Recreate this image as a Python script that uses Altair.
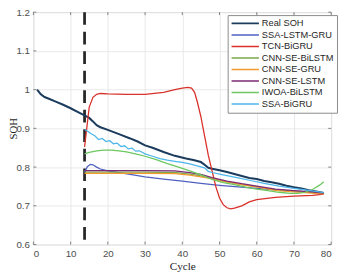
import altair as alt
import pandas as pd

models = ["Real SOH", "SSA-LSTM-GRU", "TCN-BiGRU", "CNN-SE-BiLSTM",
          "CNN-SE-GRU", "CNN-SE-LSTM", "IWOA-BiLSTM", "SSA-BiGRU"]
colors = ["#1c3c5e", "#5060c0", "#d9302a", "#7aa84a",
          "#f39a2e", "#7b2a74", "#6cc860", "#4db6ea"]

real_x = [1, 2, 3, 4, 6, 8, 10, 12, 14, 15, 16, 17, 18, 20, 23, 26, 28, 30, 32, 35, 38, 41, 43,
          45, 46, 47, 48, 50, 52, 54, 56, 58, 60, 62, 64, 66, 68, 70, 72, 74, 76, 78]
real_y = [1.0, 0.988, 0.981, 0.977, 0.969, 0.961, 0.952, 0.942, 0.932, 0.927, 0.918, 0.908,
          0.903, 0.896, 0.885, 0.874, 0.866, 0.856, 0.850, 0.839, 0.829, 0.822, 0.818, 0.813,
          0.806, 0.798, 0.796, 0.792, 0.787, 0.782, 0.777, 0.772, 0.769, 0.764, 0.761, 0.757,
          0.752, 0.748, 0.745, 0.740, 0.737, 0.733]

ssa_lstm_gru_x = [13.75, 14.5, 15.3, 16, 17, 18, 20, 23, 26, 30, 35, 40, 45, 50, 55, 60, 65, 70, 75, 78]
ssa_lstm_gru_y = [0.787, 0.801, 0.807, 0.806, 0.800, 0.795, 0.790, 0.786, 0.781, 0.775, 0.769,
                  0.764, 0.758, 0.753, 0.749, 0.745, 0.741, 0.738, 0.735, 0.733]

tcn_x = [13.75, 15, 16, 17, 18, 20, 25, 30, 35, 38, 40, 41.5, 42.5, 43.3, 44, 45, 46, 47, 48,
         49, 50, 51, 52, 53, 54, 56, 58, 60, 65, 70, 75, 78]
tcn_y = [0.852, 0.955, 0.980, 0.988, 0.990, 0.989, 0.988, 0.988, 0.993, 1.000, 1.004, 1.006,
         1.004, 0.993, 0.970, 0.930, 0.880, 0.830, 0.790, 0.750, 0.720, 0.703, 0.695, 0.692,
         0.694, 0.700, 0.710, 0.716, 0.722, 0.725, 0.727, 0.730]

flat_x = [13.75, 20, 30, 38, 42, 45, 48, 52, 56, 60, 65, 70, 75, 78]
cnn_bilstm_y = [0.787, 0.787, 0.787, 0.786, 0.782, 0.777, 0.770, 0.762, 0.755, 0.749, 0.742, 0.737, 0.734, 0.732]
cnn_gru_y = [0.784, 0.784, 0.784, 0.783, 0.779, 0.775, 0.770, 0.762, 0.755, 0.749, 0.740, 0.736, 0.733, 0.731]
cnn_lstm_y = [0.791, 0.791, 0.791, 0.790, 0.786, 0.781, 0.773, 0.764, 0.757, 0.751, 0.743, 0.739, 0.736, 0.733]

iwoa_x = [13.75, 15, 17, 19, 21, 23, 25, 28, 30, 33, 36, 39, 42, 45, 48, 51, 54, 57, 60, 63,
          66, 69, 71, 73, 75, 77, 78]
iwoa_y = [0.834, 0.838, 0.842, 0.844, 0.844, 0.842, 0.839, 0.833, 0.828, 0.819, 0.809, 0.800,
          0.790, 0.780, 0.768, 0.760, 0.755, 0.748, 0.743, 0.739, 0.735, 0.732, 0.732, 0.735,
          0.742, 0.754, 0.762]

ssa_bigru_x = [13.75, 14.5, 15.5, 16.5, 17.5, 18.5, 19.5, 20.5, 21.5, 22.5, 23.5, 24.5, 25.5,
               26.5, 27.5, 28.5, 30, 32, 34, 36, 38, 40, 42, 44, 46, 47, 48, 50, 52, 55, 58,
               62, 66, 70, 74, 78]
ssa_bigru_y = [0.897, 0.893, 0.886, 0.881, 0.871, 0.874, 0.866, 0.868, 0.860, 0.862, 0.853,
               0.855, 0.847, 0.849, 0.841, 0.842, 0.834, 0.828, 0.822, 0.818, 0.815, 0.812,
               0.808, 0.803, 0.798, 0.789, 0.786, 0.782, 0.778, 0.772, 0.766, 0.758, 0.751,
               0.745, 0.740, 0.734]

split_cycle = 13.75
x_ticks = [0, 10, 20, 30, 40, 50, 60, 70, 80]
y_ticks = [0.6, 0.7, 0.8, 0.9, 1.0, 1.1, 1.2]

series = [
    (real_x, real_y), (ssa_lstm_gru_x, ssa_lstm_gru_y), (tcn_x, tcn_y),
    (flat_x, cnn_bilstm_y), (flat_x, cnn_gru_y), (flat_x, cnn_lstm_y),
    (iwoa_x, iwoa_y), (ssa_bigru_x, ssa_bigru_y),
]

W, H = 305, 238
FONT = "Liberation Sans"
SERIF = "Liberation Serif"

xscale = alt.Scale(domain=[0, 80], nice=False, zero=False)
yscale = alt.Scale(domain=[0.6, 1.2], nice=False, zero=False)
xaxis = alt.Axis(values=x_ticks, format="d", grid=True, ticks=False, domain=False,
                 labelFont=FONT, labelFontSize=10, labelColor="#4d4d4d", labelPadding=4,
                 title="Cycle", titleFont=SERIF, titleFontSize=11.5, titleFontWeight="normal",
                 titleColor="#262626", titlePadding=3, gridColor="#e3e3e3", gridWidth=0.8)
yaxis = alt.Axis(values=y_ticks, format="~g", grid=True, ticks=False, domain=False,
                 labelFont=FONT, labelFontSize=10, labelColor="#4d4d4d", labelPadding=4,
                 title="SOH", titleFont=SERIF, titleFontSize=11, titleFontWeight="normal",
                 titleColor="#262626", titleAngle=270, titleX=-17.5, titleY=H / 2,
                 titleAlign="center", titleBaseline="alphabetic",
                 gridColor="#e3e3e3", gridWidth=0.8)

def X(field="cycle"):
    return alt.X(f"{field}:Q", scale=xscale, axis=xaxis, title="Cycle")

def Y(field="soh"):
    return alt.Y(f"{field}:Q", scale=yscale, axis=yaxis, title="SOH")

color = alt.Color("model:N", scale=alt.Scale(domain=models, range=colors), sort=models,
                  legend=alt.Legend(orient="none", legendX=199, legendY=3, title=None,
                                    symbolType="stroke", symbolSize=784, symbolStrokeWidth=1.6,
                                    labelFont=FONT, labelFontSize=9.5, labelColor="#262626",
                                    fillColor="white", strokeColor="#8a8a8a", padding=3,
                                    rowPadding=0.8, clipHeight=11, labelOffset=2,
                                    cornerRadius=0))

layers = []
for name, (xs, ys) in zip(models, series):
    df = pd.DataFrame({"cycle": xs, "soh": ys, "model": name})
    layers.append(
        alt.Chart(df).mark_line(strokeWidth=2.1 if name == "Real SOH" else 1.3, clip=True)
        .encode(x=X(), y=Y(), color=color)
    )

split = alt.Chart(pd.DataFrame({"cycle": [split_cycle]})).mark_rule(
    color="#262626", strokeWidth=2.8, strokeDash=[13, 7]).encode(x=X())

xt = pd.DataFrame({"cycle": x_ticks})
yt = pd.DataFrame({"soh": y_ticks})
tick_style = dict(color="#666666", strokeWidth=0.8)
ticks = [
    alt.Chart(xt).mark_rule(**tick_style).encode(x=X(), y=alt.value(H), y2=alt.value(H - 3)),
    alt.Chart(xt).mark_rule(**tick_style).encode(x=X(), y=alt.value(0), y2=alt.value(3)),
    alt.Chart(yt).mark_rule(**tick_style).encode(y=Y(), x=alt.value(0), x2=alt.value(3)),
    alt.Chart(yt).mark_rule(**tick_style).encode(y=Y(), x=alt.value(W), x2=alt.value(W - 3)),
]

chart = alt.layer(*ticks, split, *layers).properties(
    width=W, height=H,
    autosize=alt.AutoSizeParams(type="none"),
    padding={"left": 26, "top": 1, "right": 7, "bottom": 31},
).configure_view(stroke="#666666", strokeWidth=0.9).configure_axis(
    titleFontWeight="normal"
).configure(background="white")

chart.save("out.html", embed_options={"renderer": "svg", "actions": False})
